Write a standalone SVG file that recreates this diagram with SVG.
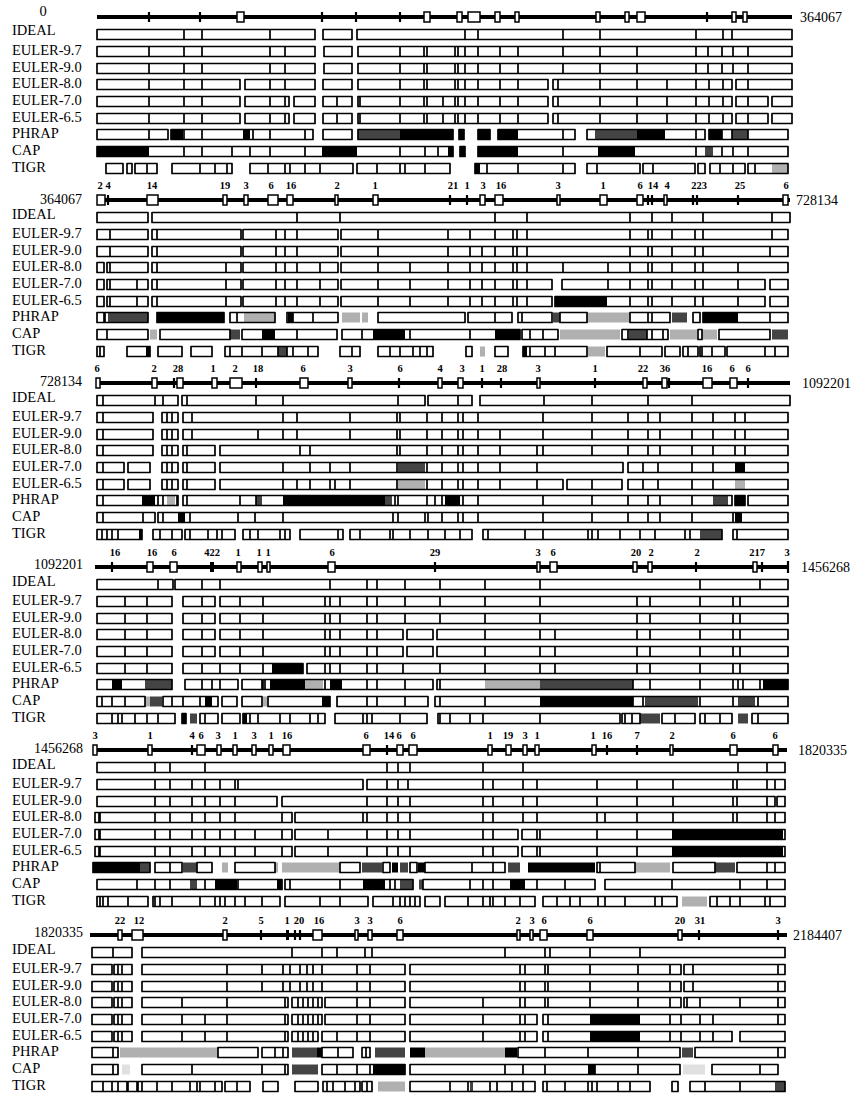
<svg xmlns="http://www.w3.org/2000/svg" width="851" height="1095" viewBox="0 0 851 1095">
<style>
text{font-family:"Liberation Serif","Times New Roman",serif;fill:#000}
.lb{font-size:14.5px}
.rl{font-size:14px}
.pr{font-size:14px;text-anchor:end}
.n{font-size:10.5px;font-weight:bold;text-anchor:middle}
.c{fill:none;stroke:#000;stroke-width:1.7;stroke-linejoin:round}
.d{fill:none;stroke:#000;stroke-width:1.7}
.bar{fill:none;stroke:#000;stroke-width:4}
.bx{fill:#fff;stroke:#000;stroke-width:1.5}
.tk{fill:none;stroke:#000;stroke-width:2.2}
.k{fill:#000}.g{fill:#444}.l{fill:#b0b0b0}.f{fill:#e0e0e0}
</style>
<rect width="851" height="1095" fill="#fff"/>

<!-- PANEL 1 -->
<g id="panel1" transform="translate(0,17)">
<text class="lb" x="43" y="-1" text-anchor="middle">0</text>
<text class="rl" x="800" y="5">364067</text>
<g id="p1-labels">
<text class="lb" x="12" y="18">IDEAL</text><text class="lb" x="12" y="38">EULER-9.7</text><text class="lb" x="12" y="55">EULER-9.0</text><text class="lb" x="12" y="71">EULER-8.0</text><text class="lb" x="12" y="88">EULER-7.0</text><text class="lb" x="12" y="105">EULER-6.5</text><text class="lb" x="12" y="121">PHRAP</text><text class="lb" x="12" y="138">CAP</text><text class="lb" x="12" y="155">TIGR</text>
</g>
<g id="p1-bar">
<path class="bar" d="M97 0H792"/>
<path class="bx" d="M237 -5H244v10H237zM424 -5H430v10H424zM457 -5H462v10H457zM468 -5H480v10H468zM495 -5H500v10H495zM515 -5H519v10H515zM596 -5H600v10H596zM625 -5H629v10H625zM637 -5H645v10H637zM732 -5H736v10H732zM743 -5H747v10H743z"/>
<path class="tk" d="M149 -5v10M200 -5v10M322 -5v10M356 -5v10M400 -5v10M707 -5v10"/>
</g>
<g id="p1-ideal" transform="translate(0,12)">
<path class="c" d="M97 .5H315v10H97zM323 .5H352v10H323zM357 .5H792v10H357z"/>
<path class="d" d="M184 .5v10M202 .5v10M270 .5v10M465 .5v10M478 .5v10M563 .5v10M600 .5v10M696 .5v10M723 .5v10M732 .5v10"/>
</g>
<g id="p1-e97" transform="translate(0,29)">
<path class="c" d="M97 .5H315v10H97zM324 .5H352v10H324zM358 .5H792v10H358z"/>
<path class="d" d="M149 .5v10M184 .5v10M202 .5v10M270 .5v10M285 .5v10M400 .5v10M424 .5v10M427 .5v10M455 .5v10M458 .5v10M465 .5v10M478 .5v10M500 .5v10M518 .5v10M563 .5v10M600 .5v10M637 .5v10M696 .5v10M708 .5v10M722 .5v10M733 .5v10M748 .5v10"/>
</g>
<g id="p1-e90" transform="translate(0,46)">
<path class="c" d="M97 .5H315v10H97zM324 .5H352v10H324zM358 .5H792v10H358z"/>
<path class="d" d="M149 .5v10M184 .5v10M202 .5v10M270 .5v10M285 .5v10M400 .5v10M424 .5v10M427 .5v10M455 .5v10M458 .5v10M465 .5v10M478 .5v10M500 .5v10M518 .5v10M563 .5v10M600 .5v10M637 .5v10M696 .5v10M708 .5v10M722 .5v10M733 .5v10M748 .5v10"/>
</g>
<g id="p1-e80" transform="translate(0,62)">
<path class="c" d="M97 .5H240v10H97zM245 .5H315v10H245zM323 .5H352v10H323zM358 .5H548v10H358zM553 .5H732v10H553zM736 .5H792v10H736z"/>
<path class="d" d="M149 .5v10M184 .5v10M202 .5v10M270 .5v10M285 .5v10M400 .5v10M424 .5v10M427 .5v10M455 .5v10M458 .5v10M465 .5v10M478 .5v10M500 .5v10M518 .5v10M558 .5v10M600 .5v10M637 .5v10M667 .5v10M696 .5v10M709 .5v10M723 .5v10M748 .5v10"/>
</g>
<g id="p1-e70" transform="translate(0,79)">
<path class="c" d="M97 .5H240v10H97zM245 .5H289v10H245zM294 .5H315v10H294zM323 .5H352v10H323zM358 .5H548v10H358zM553 .5H732v10H553zM736 .5H768v10H736zM772 .5H792v10H772z"/>
<path class="d" d="M149 .5v10M184 .5v10M202 .5v10M270 .5v10M285 .5v10M337 .5v10M360 .5v10M400 .5v10M424 .5v10M427 .5v10M443 .5v10M455 .5v10M458 .5v10M465 .5v10M478 .5v10M500 .5v10M518 .5v10M558 .5v10M600 .5v10M637 .5v10M667 .5v10M696 .5v10M709 .5v10M723 .5v10M748 .5v10"/>
</g>
<g id="p1-e65" transform="translate(0,96)">
<path class="c" d="M97 .5H240v10H97zM245 .5H289v10H245zM294 .5H315v10H294zM323 .5H352v10H323zM358 .5H548v10H358zM553 .5H732v10H553zM736 .5H768v10H736zM772 .5H792v10H772z"/>
<path class="d" d="M149 .5v10M184 .5v10M202 .5v10M270 .5v10M285 .5v10M337 .5v10M360 .5v10M400 .5v10M424 .5v10M427 .5v10M443 .5v10M455 .5v10M458 .5v10M465 .5v10M478 .5v10M500 .5v10M518 .5v10M558 .5v10M600 .5v10M637 .5v10M667 .5v10M696 .5v10M709 .5v10M723 .5v10M748 .5v10"/>
</g>
<g id="p1-phrap" transform="translate(0,112)">
<path class="k" d="M171 .5H183v10H171zM243 .5H250v10H243zM400 .5H453v10H400zM459 .5H464v10H459zM478 .5H490v10H478zM498 .5H518v10H498zM637 .5H665v10H637zM709 .5H722v10H709z"/>
<path class="g" d="M358 .5H400v10H358zM595 .5H637v10H595zM732 .5H748v10H732z"/>
<path class="c" d="M97 .5H168v10H97zM171 .5H313v10H171zM323 .5H352v10H323zM358 .5H453v10H358zM459 .5H464v10H459zM478 .5H490v10H478zM498 .5H575v10H498zM587 .5H705v10H587zM709 .5H788v10H709z"/>
<path class="d" d="M149 .5v10M184 .5v10M202 .5v10M253 .5v10M270 .5v10M305 .5v10M563 .5v10M696 .5v10M722 .5v10M732 .5v10M748 .5v10"/>
</g>
<g id="p1-cap" transform="translate(0,129)">
<path class="k" d="M97 .5H149v10H97zM322 .5H357v10H322zM448 .5H453v10H448zM460 .5H465v10H460zM478 .5H518v10H478zM598 .5H635v10H598z"/>
<path class="g" d="M705 .5H713v10H705z"/>
<path class="c" d="M97 .5H453v10H97zM460 .5H465v10H460zM478 .5H788v10H478z"/>
<path class="d" d="M184 .5v10M202 .5v10M232 .5v10M250 .5v10M270 .5v10M305 .5v10M400 .5v10M425 .5v10M438 .5v10M563 .5v10M696 .5v10M722 .5v10M733 .5v10M748 .5v10"/>
</g>
<g id="p1-tigr" transform="translate(0,146)">
<path class="k" d="M475 .5H480v10H475z"/>
<path class="l" d="M772 .5H788v10H772z"/>
<path class="c" d="M106 .5H123v10H106zM127 .5H132v10H127zM135 .5H157v10H135zM172 .5H232v10H172zM250 .5H353v10H250zM357 .5H450v10H357zM475 .5H575v10H475zM587 .5H640v10H587zM643 .5H695v10H643zM698 .5H705v10H698zM710 .5H745v10H710zM748 .5H788v10H748z"/>
<path class="d" d="M147 .5v10M200 .5v10M215 .5v10M227 .5v10M268 .5v10M285 .5v10M290 .5v10M305 .5v10M320 .5v10M377 .5v10M400 .5v10M405 .5v10M425 .5v10M487 .5v10M518 .5v10M563 .5v10M597 .5v10M653 .5v10M720 .5v10M733 .5v10M755 .5v10"/>
</g>
</g>

<!-- PANEL 2 -->
<g id="panel2" transform="translate(0,200)">
<text class="pr" x="82" y="4">364067</text>
<text class="rl" x="796" y="5">728134</text>
<g id="p2-labels">
<text class="lb" x="12" y="19">IDEAL</text><text class="lb" x="12" y="38">EULER-9.7</text><text class="lb" x="12" y="55">EULER-9.0</text><text class="lb" x="12" y="71">EULER-8.0</text><text class="lb" x="12" y="88">EULER-7.0</text><text class="lb" x="12" y="105">EULER-6.5</text><text class="lb" x="12" y="121">PHRAP</text><text class="lb" x="12" y="138">CAP</text><text class="lb" x="12" y="155">TIGR</text>
</g>
<g id="p2-bar">
<g class="n"><text x="100" y="-11">2</text><text x="108" y="-11">4</text><text x="152" y="-11">14</text><text x="225" y="-11">19</text><text x="246" y="-11">3</text><text x="271" y="-11">6</text><text x="291" y="-11">16</text><text x="337" y="-11">2</text><text x="375" y="-11">1</text><text x="453" y="-11">21</text><text x="467" y="-11">1</text><text x="483" y="-11">3</text><text x="501" y="-11">16</text><text x="558" y="-11">3</text><text x="603" y="-11">1</text><text x="640" y="-11">6</text><text x="653" y="-11">14</text><text x="667" y="-11">4</text><text x="699" y="-11">223</text><text x="740" y="-11">25</text><text x="786" y="-11">6</text></g>
<path class="bar" d="M97 0H790"/>
<path class="bx" d="M97 -5H105v10H97zM147 -5H158v10H147zM223 -5H227v10H223zM244 -5H248v10H244zM268 -5H278v10H268zM287 -5H293v10H287zM335 -5H338v10H335zM373 -5H378v10H373zM480 -5H485v10H480zM495 -5H503v10H495zM557 -5H560v10H557zM600 -5H607v10H600zM637 -5H643v10H637zM664 -5H667v10H664zM783 -5H788v10H783z"/>
<path class="tk" d="M108 -5v10M450 -5v10M467 -5v10M648 -5v10M652 -5v10M693 -5v10M697 -5v10M738 -5v10"/>
</g>
<g id="p2-ideal" transform="translate(0,12)">
<path class="c" d="M97 .5H148v10H97zM152 .5H790v10H152z"/>
<path class="d" d="M297 .5v10M340 .5v10M495 .5v10M527 .5v10M630 .5v10M652 .5v10M672 .5v10M703 .5v10M772 .5v10"/>
</g>
<g id="p2-e97" transform="translate(0,29)">
<path class="c" d="M97 .5H148v10H97zM152 .5H241v10H152zM243 .5H338v10H243zM341 .5H788v10H341z"/>
<path class="d" d="M110 .5v10M157 .5v10M276 .5v10M285 .5v10M297 .5v10M378 .5v10M448 .5v10M470 .5v10M495 .5v10M513 .5v10M517 .5v10M527 .5v10M630 .5v10M648 .5v10M652 .5v10M672 .5v10M695 .5v10M703 .5v10M772 .5v10"/>
</g>
<g id="p2-e90" transform="translate(0,46)">
<path class="c" d="M97 .5H148v10H97zM152 .5H241v10H152zM243 .5H338v10H243zM341 .5H788v10H341z"/>
<path class="d" d="M110 .5v10M157 .5v10M276 .5v10M285 .5v10M297 .5v10M378 .5v10M448 .5v10M470 .5v10M482 .5v10M495 .5v10M513 .5v10M517 .5v10M527 .5v10M630 .5v10M648 .5v10M652 .5v10M672 .5v10M695 .5v10M703 .5v10M770 .5v10"/>
</g>
<g id="p2-e80" transform="translate(0,62)">
<path class="c" d="M97 .5H104v10H97zM107 .5H148v10H107zM152 .5H241v10H152zM243 .5H338v10H243zM341 .5H788v10H341z"/>
<path class="d" d="M110 .5v10M157 .5v10M226 .5v10M276 .5v10M285 .5v10M297 .5v10M320 .5v10M378 .5v10M410 .5v10M448 .5v10M470 .5v10M482 .5v10M495 .5v10M513 .5v10M517 .5v10M527 .5v10M563 .5v10M608 .5v10M630 .5v10M648 .5v10M652 .5v10M672 .5v10M695 .5v10M703 .5v10M738 .5v10"/>
</g>
<g id="p2-e70" transform="translate(0,79)">
<path class="c" d="M97 .5H104v10H97zM107 .5H148v10H107zM152 .5H241v10H152zM243 .5H338v10H243zM341 .5H552v10H341zM562 .5H765v10H562zM770 .5H788v10H770z"/>
<path class="d" d="M110 .5v10M137 .5v10M157 .5v10M226 .5v10M276 .5v10M285 .5v10M297 .5v10M320 .5v10M378 .5v10M410 .5v10M448 .5v10M470 .5v10M482 .5v10M495 .5v10M513 .5v10M517 .5v10M527 .5v10M608 .5v10M630 .5v10M648 .5v10M652 .5v10M672 .5v10M695 .5v10M703 .5v10M738 .5v10"/>
</g>
<g id="p2-e65" transform="translate(0,96)">
<path class="k" d="M555 .5H607v10H555z"/>
<path class="c" d="M97 .5H104v10H97zM107 .5H148v10H107zM152 .5H241v10H152zM243 .5H338v10H243zM341 .5H552v10H341zM555 .5H765v10H555zM770 .5H788v10H770z"/>
<path class="d" d="M110 .5v10M137 .5v10M157 .5v10M226 .5v10M276 .5v10M285 .5v10M297 .5v10M320 .5v10M378 .5v10M410 .5v10M448 .5v10M470 .5v10M482 .5v10M495 .5v10M513 .5v10M517 .5v10M527 .5v10M630 .5v10M648 .5v10M652 .5v10M672 .5v10M695 .5v10M703 .5v10M738 .5v10"/>
</g>
<g id="p2-phrap" transform="translate(0,112)">
<path class="g" d="M108 .5H148v10H108zM553 .5H560v10H553zM672 .5H687v10H672z"/>
<path class="k" d="M157 .5H224v10H157zM703 .5H738v10H703zM288 .5H293v10H288z"/>
<path class="l" d="M244 .5H275v10H244zM342 .5H360v10H342zM362 .5H368v10H362zM587 .5H630v10H587z"/>
<path class="c" d="M97 .5H104v10H97zM105 .5H148v10H105zM157 .5H224v10H157zM230 .5H275v10H230zM287 .5H338v10H287zM378 .5H465v10H378zM468 .5H512v10H468zM518 .5H552v10H518zM560 .5H587v10H560zM630 .5H670v10H630zM693 .5H700v10H693zM703 .5H788v10H703z"/>
<path class="d" d="M237 .5v10M293 .5v10M313 .5v10M495 .5v10M522 .5v10M648 .5v10M652 .5v10M770 .5v10"/>
</g>
<g id="p2-cap" transform="translate(0,129)">
<path class="l" d="M150 .5H157v10H150zM560 .5H620v10H560zM670 .5H697v10H670zM702 .5H717v10H702z"/>
<path class="g" d="M230 .5H240v10H230zM629 .5H647v10H629zM772 .5H788v10H772z"/>
<path class="k" d="M262 .5H275v10H262zM373 .5H405v10H373zM495 .5H520v10H495z"/>
<path class="c" d="M97 .5H148v10H97zM160 .5H230v10H160zM242 .5H337v10H242zM342 .5H520v10H342zM522 .5H558v10H522zM622 .5H668v10H622zM698 .5H702v10H698zM719 .5H770v10H719z"/>
<path class="d" d="M107 .5v10M297 .5v10M362 .5v10M410 .5v10M470 .5v10M530 .5v10M543 .5v10M628 .5v10M647 .5v10M652 .5v10M663 .5v10"/>
</g>
<g id="p2-tigr" transform="translate(0,146)">
<path class="k" d="M146 .5H150v10H146zM523 .5H527v10H523z"/>
<path class="g" d="M278 .5H287v10H278z"/>
<path class="l" d="M480 .5H485v10H480zM588 .5H605v10H588z"/>
<path class="c" d="M97 .5H104v10H97zM127 .5H150v10H127zM158 .5H182v10H158zM191 .5H212v10H191zM225 .5H318v10H225zM340 .5H360v10H340zM378 .5H433v10H378zM466 .5H472v10H466zM495 .5H508v10H495zM523 .5H587v10H523zM607 .5H662v10H607zM665 .5H680v10H665zM683 .5H698v10H683zM700 .5H725v10H700zM727 .5H788v10H727z"/>
<path class="d" d="M100 .5v10M230 .5v10M242 .5v10M262 .5v10M278 .5v10M287 .5v10M293 .5v10M308 .5v10M352 .5v10M390 .5v10M400 .5v10M413 .5v10M420 .5v10M427 .5v10M530 .5v10M545 .5v10M555 .5v10M640 .5v10M688 .5v10M702 .5v10M712 .5v10M765 .5v10M775 .5v10"/>
</g>
</g>

<!-- PANEL 3 -->
<g id="panel3" transform="translate(0,383)">
<text class="pr" x="82" y="3">728134</text>
<text class="rl" x="802" y="5">1092201</text>
<g id="p3-labels">
<text class="lb" x="12" y="19">IDEAL</text><text class="lb" x="12" y="38">EULER-9.7</text><text class="lb" x="12" y="55">EULER-9.0</text><text class="lb" x="12" y="71">EULER-8.0</text><text class="lb" x="12" y="88">EULER-7.0</text><text class="lb" x="12" y="105">EULER-6.5</text><text class="lb" x="12" y="121">PHRAP</text><text class="lb" x="12" y="138">CAP</text><text class="lb" x="12" y="155">TIGR</text>
</g>
<g id="p3-bar">
<g class="n"><text x="97" y="-11">6</text><text x="154" y="-11">2</text><text x="178" y="-11">28</text><text x="213" y="-11">1</text><text x="235" y="-11">2</text><text x="258" y="-11">18</text><text x="303" y="-11">6</text><text x="350" y="-11">3</text><text x="400" y="-11">6</text><text x="440" y="-11">4</text><text x="462" y="-11">3</text><text x="482" y="-11">1</text><text x="502" y="-11">28</text><text x="538" y="-11">3</text><text x="595" y="-11">1</text><text x="643" y="-11">22</text><text x="665" y="-11">36</text><text x="707" y="-11">16</text><text x="732" y="-11">6</text><text x="748" y="-11">6</text></g>
<path class="bar" d="M97 0H790"/>
<path class="bx" d="M96 -5H100v10H96zM152 -5H157v10H152zM177 -5H183v10H177zM212 -5H217v10H212zM230 -5H242v10H230zM300 -5H308v10H300zM348 -5H352v10H348zM438 -5H442v10H438zM458 -5H463v10H458zM537 -5H540v10H537zM643 -5H647v10H643zM662 -5H667v10H662zM703 -5H712v10H703zM730 -5H737v10H730z"/>
<path class="tk" d="M174 -5v10M256 -5v10M399 -5v10M482 -5v10M501 -5v10M595 -5v10M669 -5v10M748 -5v10"/>
</g>
<g id="p3-ideal" transform="translate(0,12)">
<path class="c" d="M97 .5H178v10H97zM182 .5H425v10H182zM428 .5H472v10H428zM480 .5H790v10H480z"/>
<path class="d" d="M103 .5v10M155 .5v10M163 .5v10M187 .5v10M256 .5v10M283 .5v10M398 .5v10M458 .5v10M544 .5v10M592 .5v10M648 .5v10M692 .5v10"/>
</g>
<g id="p3-e97" transform="translate(0,29)">
<path class="c" d="M97 .5H153v10H97zM162 .5H178v10H162zM183 .5H788v10H183z"/>
<path class="d" d="M103 .5v10M167 .5v10M172 .5v10M192 .5v10M283 .5v10M297 .5v10M350 .5v10M397 .5v10M400 .5v10M427 .5v10M442 .5v10M458 .5v10M463 .5v10M478 .5v10M543 .5v10M592 .5v10M628 .5v10M648 .5v10M660 .5v10M692 .5v10M713 .5v10M735 .5v10M745 .5v10"/>
</g>
<g id="p3-e90" transform="translate(0,46)">
<path class="c" d="M97 .5H153v10H97zM162 .5H178v10H162zM183 .5H788v10H183z"/>
<path class="d" d="M103 .5v10M167 .5v10M172 .5v10M192 .5v10M258 .5v10M283 .5v10M297 .5v10M350 .5v10M397 .5v10M400 .5v10M427 .5v10M442 .5v10M458 .5v10M463 .5v10M478 .5v10M500 .5v10M543 .5v10M592 .5v10M628 .5v10M648 .5v10M660 .5v10M692 .5v10M713 .5v10M735 .5v10M745 .5v10"/>
</g>
<g id="p3-e80" transform="translate(0,62)">
<path class="c" d="M97 .5H153v10H97zM162 .5H178v10H162zM183 .5H215v10H183zM220 .5H788v10H220z"/>
<path class="d" d="M103 .5v10M167 .5v10M172 .5v10M187 .5v10M300 .5v10M310 .5v10M397 .5v10M400 .5v10M427 .5v10M442 .5v10M458 .5v10M463 .5v10M478 .5v10M500 .5v10M537 .5v10M543 .5v10M592 .5v10M628 .5v10M648 .5v10M660 .5v10M692 .5v10M713 .5v10M735 .5v10M745 .5v10"/>
</g>
<g id="p3-e70" transform="translate(0,79)">
<path class="g" d="M398 .5H425v10H398z"/>
<path class="k" d="M735 .5H745v10H735z"/>
<path class="c" d="M97 .5H124v10H97zM128 .5H150v10H128zM162 .5H178v10H162zM183 .5H215v10H183zM220 .5H623v10H220zM628 .5H788v10H628z"/>
<path class="d" d="M103 .5v10M167 .5v10M172 .5v10M187 .5v10M283 .5v10M310 .5v10M330 .5v10M350 .5v10M397 .5v10M427 .5v10M442 .5v10M458 .5v10M463 .5v10M478 .5v10M500 .5v10M537 .5v10M643 .5v10M658 .5v10M692 .5v10M713 .5v10"/>
</g>
<g id="p3-e65" transform="translate(0,96)">
<path class="l" d="M398 .5H425v10H398zM735 .5H745v10H735z"/>
<path class="c" d="M97 .5H124v10H97zM128 .5H150v10H128zM162 .5H178v10H162zM183 .5H215v10H183zM220 .5H563v10H220zM567 .5H622v10H567zM628 .5H788v10H628z"/>
<path class="d" d="M103 .5v10M167 .5v10M172 .5v10M187 .5v10M283 .5v10M297 .5v10M310 .5v10M330 .5v10M335 .5v10M350 .5v10M397 .5v10M427 .5v10M442 .5v10M458 .5v10M463 .5v10M478 .5v10M500 .5v10M537 .5v10M592 .5v10M643 .5v10M658 .5v10M692 .5v10M713 .5v10"/>
</g>
<g id="p3-phrap" transform="translate(0,112)">
<path class="k" d="M142 .5H155v10H142zM283 .5H385v10H283zM445 .5H460v10H445zM735 .5H745v10H735z"/>
<path class="l" d="M167 .5H175v10H167z"/>
<path class="g" d="M385 .5H392v10H385zM713 .5H728v10H713zM256 .5H262v10H256z"/>
<path class="c" d="M97 .5H178v10H97zM183 .5H732v10H183zM735 .5H745v10H735zM748 .5H788v10H748z"/>
<path class="d" d="M103 .5v10M158 .5v10M163 .5v10M177 .5v10M187 .5v10M240 .5v10M256 .5v10M395 .5v10M398 .5v10M427 .5v10M435 .5v10M442 .5v10M463 .5v10M478 .5v10M543 .5v10M592 .5v10M628 .5v10M648 .5v10M660 .5v10M692 .5v10"/>
</g>
<g id="p3-cap" transform="translate(0,129)">
<path class="k" d="M178 .5H185v10H178zM735 .5H742v10H735z"/>
<path class="c" d="M97 .5H155v10H97zM158 .5H788v10H158z"/>
<path class="d" d="M103 .5v10M143 .5v10M163 .5v10M190 .5v10M238 .5v10M255 .5v10M283 .5v10M393 .5v10M398 .5v10M425 .5v10M428 .5v10M442 .5v10M458 .5v10M463 .5v10M478 .5v10M543 .5v10M592 .5v10M628 .5v10M648 .5v10M660 .5v10M692 .5v10M733 .5v10"/>
</g>
<g id="p3-tigr" transform="translate(0,146)">
<path class="k" d="M139 .5H142v10H139z"/>
<path class="g" d="M700 .5H722v10H700z"/>
<path class="c" d="M97 .5H142v10H97zM153 .5H182v10H153zM185 .5H235v10H185zM243 .5H290v10H243zM300 .5H343v10H300zM350 .5H472v10H350zM483 .5H722v10H483zM733 .5H788v10H733z"/>
<path class="d" d="M102 .5v10M107 .5v10M112 .5v10M118 .5v10M160 .5v10M172 .5v10M190 .5v10M208 .5v10M217 .5v10M222 .5v10M250 .5v10M258 .5v10M280 .5v10M285 .5v10M338 .5v10M360 .5v10M390 .5v10M393 .5v10M410 .5v10M428 .5v10M445 .5v10M460 .5v10M488 .5v10M525 .5v10M543 .5v10M588 .5v10M592 .5v10M598 .5v10M620 .5v10M640 .5v10M655 .5v10M685 .5v10M690 .5v10M737 .5v10"/>
</g>
</g>

<!-- PANEL 4 -->
<g id="panel4" transform="translate(0,567)">
<text class="pr" x="83" y="2">1092201</text>
<text class="rl" x="801" y="5">1456268</text>
<g id="p4-labels">
<text class="lb" x="12" y="19">IDEAL</text><text class="lb" x="12" y="38">EULER-9.7</text><text class="lb" x="12" y="55">EULER-9.0</text><text class="lb" x="12" y="71">EULER-8.0</text><text class="lb" x="12" y="88">EULER-7.0</text><text class="lb" x="12" y="105">EULER-6.5</text><text class="lb" x="12" y="121">PHRAP</text><text class="lb" x="12" y="138">CAP</text><text class="lb" x="12" y="155">TIGR</text>
</g>
<g id="p4-bar">
<g class="n"><text x="115" y="-11">16</text><text x="152" y="-11">16</text><text x="174" y="-11">6</text><text x="212" y="-11">422</text><text x="238" y="-11">1</text><text x="259" y="-11">1</text><text x="268" y="-11">1</text><text x="332" y="-11">6</text><text x="435" y="-11">29</text><text x="538" y="-11">3</text><text x="553" y="-11">6</text><text x="636" y="-11">20</text><text x="651" y="-11">2</text><text x="697" y="-11">2</text><text x="757" y="-11">217</text><text x="787" y="-11">3</text></g>
<path class="bar" d="M95 0H788"/>
<path class="bx" d="M147 -5H153v10H147zM170 -5H177v10H170zM237 -5H241v10H237zM258 -5H262v10H258zM267 -5H270v10H267zM328 -5H335v10H328zM537 -5H540v10H537zM550 -5H557v10H550zM633 -5H637v10H633zM648 -5H652v10H648zM753 -5H757v10H753z"/>
<path class="k" d="M210 -5H214v10H210z"/>
<path class="tk" d="M112 -5v10M435 -5v10M696 -5v10M762 -5v10M788 -6v12"/>
</g>
<g id="p4-ideal" transform="translate(0,12)">
<path class="c" d="M97 .5H173v10H97zM175 .5H788v10H175z"/>
<path class="d" d="M158 .5v10M202 .5v10M220 .5v10M330 .5v10M367 .5v10M377 .5v10M405 .5v10M440 .5v10M485 .5v10M540 .5v10M700 .5v10M760 .5v10"/>
</g>
<g id="p4-e97" transform="translate(0,29)">
<path class="c" d="M97 .5H172v10H97zM183 .5H215v10H183zM220 .5H788v10H220z"/>
<path class="d" d="M125 .5v10M147 .5v10M202 .5v10M240 .5v10M263 .5v10M325 .5v10M330 .5v10M340 .5v10M367 .5v10M377 .5v10M405 .5v10M440 .5v10M485 .5v10M540 .5v10M637 .5v10M650 .5v10M700 .5v10M733 .5v10M740 .5v10"/>
</g>
<g id="p4-e90" transform="translate(0,46)">
<path class="c" d="M97 .5H172v10H97zM183 .5H215v10H183zM220 .5H788v10H220z"/>
<path class="d" d="M125 .5v10M147 .5v10M202 .5v10M240 .5v10M263 .5v10M325 .5v10M330 .5v10M340 .5v10M367 .5v10M377 .5v10M405 .5v10M440 .5v10M485 .5v10M540 .5v10M637 .5v10M650 .5v10M700 .5v10M733 .5v10M740 .5v10"/>
</g>
<g id="p4-e80" transform="translate(0,62)">
<path class="c" d="M97 .5H172v10H97zM183 .5H215v10H183zM220 .5H403v10H220zM407 .5H433v10H407zM437 .5H788v10H437z"/>
<path class="d" d="M125 .5v10M147 .5v10M202 .5v10M240 .5v10M263 .5v10M325 .5v10M330 .5v10M340 .5v10M367 .5v10M377 .5v10M485 .5v10M540 .5v10M555 .5v10M637 .5v10M650 .5v10M700 .5v10M733 .5v10M740 .5v10"/>
</g>
<g id="p4-e70" transform="translate(0,79)">
<path class="c" d="M97 .5H172v10H97zM183 .5H215v10H183zM220 .5H403v10H220zM407 .5H433v10H407zM437 .5H788v10H437z"/>
<path class="d" d="M125 .5v10M147 .5v10M202 .5v10M240 .5v10M263 .5v10M325 .5v10M330 .5v10M340 .5v10M367 .5v10M377 .5v10M485 .5v10M540 .5v10M555 .5v10M637 .5v10M650 .5v10M700 .5v10M733 .5v10M740 .5v10"/>
</g>
<g id="p4-e65" transform="translate(0,96)">
<path class="k" d="M272 .5H303v10H272z"/>
<path class="c" d="M97 .5H172v10H97zM183 .5H303v10H183zM307 .5H788v10H307z"/>
<path class="d" d="M125 .5v10M147 .5v10M202 .5v10M220 .5v10M240 .5v10M263 .5v10M325 .5v10M330 .5v10M340 .5v10M367 .5v10M377 .5v10M403 .5v10M440 .5v10M485 .5v10M540 .5v10M555 .5v10M637 .5v10M650 .5v10M700 .5v10M733 .5v10M740 .5v10"/>
</g>
<g id="p4-phrap" transform="translate(0,112)">
<path class="k" d="M112 .5H122v10H112zM270 .5H305v10H270zM330 .5H342v10H330zM763 .5H788v10H763z"/>
<path class="g" d="M145 .5H172v10H145zM540 .5H633v10H540z"/>
<path class="l" d="M305 .5H323v10H305zM485 .5H540v10H485z"/>
<path class="c" d="M97 .5H172v10H97zM185 .5H238v10H185zM242 .5H262v10H242zM263 .5H433v10H263zM437 .5H788v10H437z"/>
<path class="d" d="M202 .5v10M212 .5v10M220 .5v10M265 .5v10M325 .5v10M367 .5v10M377 .5v10M405 .5v10M440 .5v10M633 .5v10M650 .5v10M700 .5v10M733 .5v10M738 .5v10M743 .5v10M760 .5v10"/>
</g>
<g id="p4-cap" transform="translate(0,129)">
<path class="l" d="M145 .5H150v10H145zM263 .5H267v10H263z"/>
<path class="g" d="M150 .5H162v10H150zM645 .5H698v10H645zM738 .5H755v10H738z"/>
<path class="k" d="M205 .5H212v10H205zM322 .5H330v10H322zM540 .5H633v10H540z"/>
<path class="c" d="M97 .5H145v10H97zM163 .5H218v10H163zM222 .5H237v10H222zM242 .5H262v10H242zM268 .5H330v10H268zM337 .5H428v10H337zM435 .5H788v10H435z"/>
<path class="d" d="M102 .5v10M112 .5v10M125 .5v10M172 .5v10M183 .5v10M200 .5v10M367 .5v10M377 .5v10M405 .5v10M440 .5v10M485 .5v10M633 .5v10M643 .5v10M700 .5v10M733 .5v10M758 .5v10"/>
</g>
<g id="p4-tigr" transform="translate(0,146)">
<path class="k" d="M182 .5H186v10H182zM243 .5H247v10H243z"/>
<path class="g" d="M190 .5H197v10H190zM640 .5H660v10H640zM738 .5H748v10H738z"/>
<path class="c" d="M97 .5H175v10H97zM182 .5H186v10H182zM200 .5H218v10H200zM222 .5H240v10H222zM243 .5H325v10H243zM335 .5H427v10H335zM438 .5H620v10H438zM622 .5H640v10H622zM662 .5H695v10H662zM700 .5H732v10H700zM752 .5H788v10H752z"/>
<path class="d" d="M112 .5v10M118 .5v10M122 .5v10M135 .5v10M147 .5v10M158 .5v10M205 .5v10M250 .5v10M258 .5v10M280 .5v10M290 .5v10M310 .5v10M318 .5v10M363 .5v10M367 .5v10M372 .5v10M400 .5v10M440 .5v10M450 .5v10M470 .5v10M483 .5v10M540 .5v10M625 .5v10M632 .5v10M675 .5v10M705 .5v10M720 .5v10M758 .5v10"/>
</g>
</g>

<!-- PANEL 5 -->
<g id="panel5" transform="translate(0,750)">
<text class="pr" x="83" y="3">1456268</text>
<text class="rl" x="798" y="5">1820335</text>
<g id="p5-labels">
<text class="lb" x="12" y="19">IDEAL</text><text class="lb" x="12" y="38">EULER-9.7</text><text class="lb" x="12" y="55">EULER-9.0</text><text class="lb" x="12" y="71">EULER-8.0</text><text class="lb" x="12" y="88">EULER-7.0</text><text class="lb" x="12" y="105">EULER-6.5</text><text class="lb" x="12" y="121">PHRAP</text><text class="lb" x="12" y="138">CAP</text><text class="lb" x="12" y="155">TIGR</text>
</g>
<g id="p5-bar">
<g class="n"><text x="95" y="-11">3</text><text x="150" y="-11">1</text><text x="192" y="-11">4</text><text x="201" y="-11">6</text><text x="218" y="-11">3</text><text x="235" y="-11">1</text><text x="254" y="-11">3</text><text x="271" y="-11">1</text><text x="287" y="-11">16</text><text x="366" y="-11">6</text><text x="389" y="-11">14</text><text x="399" y="-11">6</text><text x="413" y="-11">6</text><text x="490" y="-11">1</text><text x="508" y="-11">19</text><text x="525" y="-11">3</text><text x="537" y="-11">1</text><text x="593" y="-11">1</text><text x="607" y="-11">16</text><text x="637" y="-11">7</text><text x="672" y="-11">2</text><text x="733" y="-11">6</text><text x="775" y="-11">6</text></g>
<path class="bar" d="M93 0H787"/>
<path class="bx" d="M93 -5H97v10H93zM148 -5H152v10H148zM197 -5H205v10H197zM217 -5H221v10H217zM233 -5H237v10H233zM252 -5H256v10H252zM269 -5H273v10H269zM283 -5H290v10H283zM363 -5H370v10H363zM397 -5H403v10H397zM409 -5H417v10H409zM488 -5H492v10H488zM506 -5H511v10H506zM523 -5H527v10H523zM535 -5H539v10H535zM592 -5H596v10H592zM670 -5H673v10H670zM730 -5H737v10H730zM773 -5H778v10H773z"/>
<path class="tk" d="M192 -5v10M387 -5v10M607 -5v10M637 -5v10"/>
</g>
<g id="p5-ideal" transform="translate(0,12)">
<path class="c" d="M97 .5H785v10H97z"/>
<path class="d" d="M155 .5v10M170 .5v10M205 .5v10M387 .5v10M398 .5v10M410 .5v10M483 .5v10M523 .5v10M738 .5v10M767 .5v10"/>
</g>
<g id="p5-e97" transform="translate(0,29)">
<path class="c" d="M97 .5H363v10H97zM367 .5H785v10H367z"/>
<path class="d" d="M155 .5v10M170 .5v10M192 .5v10M205 .5v10M220 .5v10M235 .5v10M238 .5v10M387 .5v10M398 .5v10M408 .5v10M483 .5v10M493 .5v10M523 .5v10M537 .5v10M597 .5v10M637 .5v10M673 .5v10M733 .5v10M737 .5v10M767 .5v10M775 .5v10"/>
</g>
<g id="p5-e90" transform="translate(0,46)">
<path class="c" d="M97 .5H277v10H97zM282 .5H775v10H282zM777 .5H785v10H777z"/>
<path class="d" d="M155 .5v10M170 .5v10M192 .5v10M205 .5v10M220 .5v10M235 .5v10M367 .5v10M387 .5v10M398 .5v10M410 .5v10M483 .5v10M493 .5v10M523 .5v10M537 .5v10M597 .5v10M637 .5v10M673 .5v10M733 .5v10M737 .5v10M767 .5v10"/>
</g>
<g id="p5-e80" transform="translate(0,62)">
<path class="c" d="M95 .5H99v10H95zM100 .5H292v10H100zM295 .5H785v10H295z"/>
<path class="d" d="M155 .5v10M170 .5v10M192 .5v10M205 .5v10M220 .5v10M235 .5v10M282 .5v10M363 .5v10M367 .5v10M387 .5v10M398 .5v10M410 .5v10M483 .5v10M493 .5v10M523 .5v10M537 .5v10M597 .5v10M605 .5v10M637 .5v10M673 .5v10M733 .5v10M737 .5v10M767 .5v10M775 .5v10"/>
</g>
<g id="p5-e70" transform="translate(0,79)">
<path class="k" d="M672 .5H783v10H672z"/>
<path class="c" d="M95 .5H99v10H95zM100 .5H292v10H100zM295 .5H518v10H295zM522 .5H785v10H522z"/>
<path class="d" d="M155 .5v10M170 .5v10M192 .5v10M205 .5v10M220 .5v10M235 .5v10M255 .5v10M282 .5v10M328 .5v10M367 .5v10M387 .5v10M398 .5v10M410 .5v10M483 .5v10M493 .5v10M537 .5v10M540 .5v10M597 .5v10M637 .5v10"/>
</g>
<g id="p5-e65" transform="translate(0,96)">
<path class="k" d="M672 .5H783v10H672z"/>
<path class="c" d="M95 .5H99v10H95zM100 .5H292v10H100zM295 .5H518v10H295zM522 .5H785v10H522z"/>
<path class="d" d="M155 .5v10M170 .5v10M192 .5v10M205 .5v10M220 .5v10M235 .5v10M255 .5v10M282 .5v10M328 .5v10M367 .5v10M387 .5v10M398 .5v10M410 .5v10M483 .5v10M493 .5v10M537 .5v10M540 .5v10M597 .5v10M637 .5v10"/>
</g>
<g id="p5-phrap" transform="translate(0,112)">
<path class="k" d="M93 .5H140v10H93zM392 .5H398v10H392zM418 .5H425v10H418zM528 .5H595v10H528z"/>
<path class="g" d="M140 .5H150v10H140zM183 .5H197v10H183zM362 .5H382v10H362zM400 .5H408v10H400zM508 .5H520v10H508zM715 .5H735v10H715z"/>
<path class="l" d="M222 .5H228v10H222zM275 .5H278v10H275zM282 .5H340v10H282zM635 .5H670v10H635z"/>
<path class="c" d="M93 .5H150v10H93zM155 .5H182v10H155zM197 .5H212v10H197zM235 .5H275v10H235zM340 .5H360v10H340zM383 .5H390v10H383zM410 .5H417v10H410zM425 .5H505v10H425zM597 .5H635v10H597zM673 .5H715v10H673zM737 .5H785v10H737z"/>
<path class="d" d="M170 .5v10M472 .5v10M493 .5v10M600 .5v10M767 .5v10M775 .5v10"/>
</g>
<g id="p5-cap" transform="translate(0,129)">
<path class="g" d="M190 .5H197v10H190zM400 .5H413v10H400zM419 .5H423v10H419z"/>
<path class="k" d="M215 .5H237v10H215zM277 .5H282v10H277zM363 .5H385v10H363zM510 .5H525v10H510z"/>
<path class="c" d="M97 .5H282v10H97zM285 .5H413v10H285zM423 .5H595v10H423zM605 .5H785v10H605z"/>
<path class="d" d="M137 .5v10M155 .5v10M170 .5v10M205 .5v10M238 .5v10M290 .5v10M340 .5v10M390 .5v10M395 .5v10M470 .5v10M483 .5v10M493 .5v10M537 .5v10M565 .5v10M672 .5v10M740 .5v10M767 .5v10"/>
</g>
<g id="p5-tigr" transform="translate(0,146)">
<path class="l" d="M682 .5H707v10H682z"/>
<path class="c" d="M97 .5H148v10H97zM153 .5H280v10H153zM285 .5H368v10H285zM373 .5H420v10H373zM425 .5H440v10H425zM445 .5H535v10H445zM543 .5H677v10H543zM710 .5H785v10H710z"/>
<path class="d" d="M100 .5v10M103 .5v10M108 .5v10M128 .5v10M155 .5v10M160 .5v10M172 .5v10M200 .5v10M215 .5v10M220 .5v10M225 .5v10M235 .5v10M245 .5v10M262 .5v10M320 .5v10M340 .5v10M393 .5v10M400 .5v10M405 .5v10M410 .5v10M415 .5v10M468 .5v10M483 .5v10M490 .5v10M493 .5v10M505 .5v10M520 .5v10M557 .5v10M570 .5v10M580 .5v10M598 .5v10M605 .5v10M625 .5v10M655 .5v10M662 .5v10M717 .5v10M730 .5v10M740 .5v10M765 .5v10M770 .5v10"/>
</g>
</g>

<!-- PANEL 6 -->
<g id="panel6" transform="translate(0,935)">
<text class="pr" x="83" y="2">1820335</text>
<text class="rl" x="793" y="5">2184407</text>
<g id="p6-labels">
<text class="lb" x="12" y="19">IDEAL</text><text class="lb" x="12" y="38">EULER-9.7</text><text class="lb" x="12" y="55">EULER-9.0</text><text class="lb" x="12" y="71">EULER-8.0</text><text class="lb" x="12" y="88">EULER-7.0</text><text class="lb" x="12" y="105">EULER-6.5</text><text class="lb" x="12" y="121">PHRAP</text><text class="lb" x="12" y="138">CAP</text><text class="lb" x="12" y="155">TIGR</text>
</g>
<g id="p6-bar">
<g class="n"><text x="120" y="-11">22</text><text x="139" y="-11">12</text><text x="225" y="-11">2</text><text x="261" y="-11">5</text><text x="287" y="-11">1</text><text x="299" y="-11">20</text><text x="319" y="-11">16</text><text x="357" y="-11">3</text><text x="370" y="-11">3</text><text x="400" y="-11">6</text><text x="518" y="-11">2</text><text x="532" y="-11">3</text><text x="544" y="-11">6</text><text x="590" y="-11">6</text><text x="680" y="-11">20</text><text x="700" y="-11">31</text><text x="778" y="-11">3</text></g>
<path class="bar" d="M90 0H787"/>
<path class="bx" d="M118 -5H122v10H118zM132 -5H143v10H132zM223 -5H227v10H223zM313 -5H322v10H313zM355 -5H358v10H355zM368 -5H372v10H368zM397 -5H403v10H397zM517 -5H520v10H517zM530 -5H533v10H530zM540 -5H547v10H540zM587 -5H593v10H587zM678 -5H682v10H678z"/>
<path class="k" d="M286 -5H289v10H286z"/>
<path class="tk" d="M261 -5v10M295 -5v10M300 -5v10M699 -5v10M778 -5v10"/>
</g>
<g id="p6-ideal" transform="translate(0,12)">
<path class="c" d="M92 .5H132v10H92zM142 .5H785v10H142z"/>
<path class="d" d="M113 .5v10M292 .5v10M322 .5v10M337 .5v10M365 .5v10M372 .5v10M505 .5v10M545 .5v10M550 .5v10M590 .5v10M640 .5v10"/>
</g>
<g id="p6-e97" transform="translate(0,29)">
<path class="c" d="M92 .5H112v10H92zM114 .5H132v10H114zM142 .5H405v10H142zM410 .5H681v10H410zM684 .5H785v10H684z"/>
<path class="d" d="M118 .5v10M122 .5v10M227 .5v10M262 .5v10M283 .5v10M290 .5v10M300 .5v10M307 .5v10M313 .5v10M322 .5v10M357 .5v10M370 .5v10M520 .5v10M525 .5v10M545 .5v10M548 .5v10M590 .5v10M638 .5v10M670 .5v10M693 .5v10M778 .5v10"/>
</g>
<g id="p6-e90" transform="translate(0,46)">
<path class="c" d="M92 .5H112v10H92zM114 .5H132v10H114zM142 .5H405v10H142zM410 .5H681v10H410zM684 .5H785v10H684z"/>
<path class="d" d="M118 .5v10M122 .5v10M227 .5v10M262 .5v10M283 .5v10M290 .5v10M300 .5v10M307 .5v10M313 .5v10M322 .5v10M357 .5v10M370 .5v10M520 .5v10M525 .5v10M545 .5v10M548 .5v10M590 .5v10M638 .5v10M670 .5v10M693 .5v10M778 .5v10"/>
</g>
<g id="p6-e80" transform="translate(0,62)">
<path class="c" d="M92 .5H112v10H92zM114 .5H132v10H114zM142 .5H288v10H142zM292 .5H322v10H292zM325 .5H405v10H325zM410 .5H681v10H410zM684 .5H785v10H684z"/>
<path class="d" d="M118 .5v10M122 .5v10M182 .5v10M227 .5v10M285 .5v10M298 .5v10M303 .5v10M308 .5v10M313 .5v10M318 .5v10M357 .5v10M370 .5v10M483 .5v10M520 .5v10M525 .5v10M545 .5v10M548 .5v10M590 .5v10M638 .5v10M670 .5v10M687 .5v10M700 .5v10M740 .5v10M778 .5v10"/>
</g>
<g id="p6-e70" transform="translate(0,79)">
<path class="k" d="M590 .5H640v10H590z"/>
<path class="c" d="M92 .5H112v10H92zM114 .5H132v10H114zM142 .5H288v10H142zM292 .5H322v10H292zM325 .5H405v10H325zM410 .5H537v10H410zM543 .5H785v10H543z"/>
<path class="d" d="M118 .5v10M122 .5v10M182 .5v10M205 .5v10M227 .5v10M285 .5v10M298 .5v10M303 .5v10M308 .5v10M313 .5v10M318 .5v10M357 .5v10M370 .5v10M483 .5v10M520 .5v10M525 .5v10M548 .5v10M670 .5v10M681 .5v10M700 .5v10M713 .5v10M778 .5v10"/>
</g>
<g id="p6-e65" transform="translate(0,96)">
<path class="k" d="M590 .5H640v10H590z"/>
<path class="c" d="M92 .5H112v10H92zM114 .5H132v10H114zM142 .5H288v10H142zM292 .5H318v10H292zM322 .5H405v10H322zM410 .5H537v10H410zM543 .5H732v10H543zM740 .5H785v10H740z"/>
<path class="d" d="M118 .5v10M122 .5v10M182 .5v10M205 .5v10M227 .5v10M285 .5v10M298 .5v10M303 .5v10M308 .5v10M313 .5v10M337 .5v10M357 .5v10M370 .5v10M483 .5v10M520 .5v10M525 .5v10M548 .5v10M670 .5v10M681 .5v10M700 .5v10M713 .5v10"/>
</g>
<g id="p6-phrap" transform="translate(0,112)">
<path class="l" d="M120 .5H218v10H120zM425 .5H505v10H425z"/>
<path class="g" d="M292 .5H317v10H292zM375 .5H405v10H375zM682 .5H693v10H682z"/>
<path class="k" d="M317 .5H322v10H317zM410 .5H425v10H410zM505 .5H517v10H505z"/>
<path class="c" d="M92 .5H118v10H92zM218 .5H258v10H218zM262 .5H288v10H262zM322 .5H353v10H322zM362 .5H370v10H362zM518 .5H680v10H518zM695 .5H785v10H695z"/>
<path class="d" d="M113 .5v10M275 .5v10M283 .5v10M338 .5v10M366 .5v10M545 .5v10M588 .5v10M638 .5v10M778 .5v10"/>
</g>
<g id="p6-cap" transform="translate(0,129)">
<path class="f" d="M122 .5H130v10H122zM683 .5H705v10H683z"/>
<path class="g" d="M292 .5H318v10H292z"/>
<path class="k" d="M373 .5H405v10H373zM588 .5H595v10H588z"/>
<path class="c" d="M92 .5H118v10H92zM142 .5H288v10H142zM322 .5H405v10H322zM410 .5H680v10H410zM712 .5H778v10H712z"/>
<path class="d" d="M113 .5v10M192 .5v10M262 .5v10M285 .5v10M337 .5v10M357 .5v10M370 .5v10M505 .5v10M523 .5v10M545 .5v10M595 .5v10M638 .5v10M760 .5v10"/>
</g>
<g id="p6-tigr" transform="translate(0,146)">
<path class="g" d="M470 .5H473v10H470zM775 .5H785v10H775z"/>
<path class="l" d="M378 .5H405v10H378z"/>
<path class="c" d="M92 .5H127v10H92zM128 .5H137v10H128zM138 .5H222v10H138zM225 .5H250v10H225zM263 .5H278v10H263zM295 .5H318v10H295zM323 .5H360v10H323zM362 .5H372v10H362zM410 .5H535v10H410zM543 .5H650v10H543zM672 .5H678v10H672zM690 .5H785v10H690z"/>
<path class="d" d="M103 .5v10M112 .5v10M118 .5v10M142 .5v10M157 .5v10M172 .5v10M190 .5v10M197 .5v10M200 .5v10M215 .5v10M237 .5v10M327 .5v10M333 .5v10M345 .5v10M355 .5v10M367 .5v10M450 .5v10M468 .5v10M490 .5v10M497 .5v10M512 .5v10M523 .5v10M547 .5v10M565 .5v10M588 .5v10M592 .5v10M597 .5v10M618 .5v10M630 .5v10M705 .5v10M740 .5v10"/>
</g>
</g>
</svg>
